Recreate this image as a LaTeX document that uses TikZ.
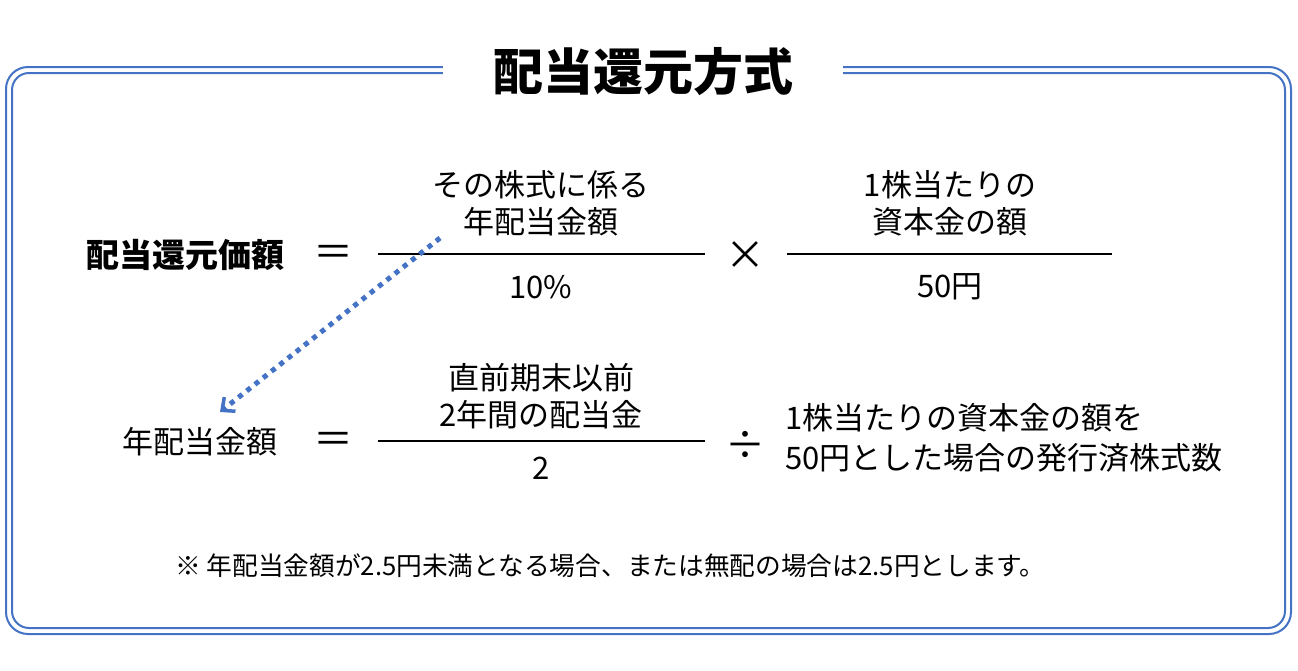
\documentclass[tikz,border=0pt]{standalone}
\usepackage{fontspec}
\setmainfont{Noto Sans CJK JP}
\usetikzlibrary{arrows.meta}
\definecolor{bl}{HTML}{4472C4}
\begin{document}
\begin{tikzpicture}[x=1pt,y=-1pt,
  txt/.style={inner sep=0pt,font=\fontsize{31}{36}\selectfont},
  op/.style={inner sep=0pt,font=\fontsize{40}{44}\selectfont},
  fr/.style={line width=2.2pt}]
\useasboundingbox (0,0) rectangle (1298,670);
\fill[white] (0,0) rectangle (1298,670);
\draw[bl,line width=2pt,rounded corners=22] (6,67) rectangle (1291,634);
\draw[bl,line width=2pt,rounded corners=17] (12,73) rectangle (1285,628);
\fill[white] (443,60) rectangle (843,80);
\node[inner sep=0pt,font=\fontsize{50}{56}\selectfont\bfseries] (title) at (643,72) {配当還元方式};
% row 1
\node[txt,font=\fontsize{33}{36}\selectfont\bfseries] (l1) at (185,255) {配当還元価額};
\node[op] (eq1) at (333,256) {＝};
\coordinate (f1a) at (378,254); \coordinate (f1b) at (705,254);
\draw[fr] (f1a) -- (f1b);
\node[txt] (n1a) at (541,185) {その株式に係る};
\node[txt] (n1b) at (541,222) {年配当金額};
\node[txt] (d1) at (541,287) {10\%};
\node[op] (x1) at (745,256) {×};
\coordinate (f2a) at (787,254); \coordinate (f2b) at (1112,254);
\draw[fr] (f2a) -- (f2b);
\node[txt] (n2a) at (950,185) {1株当たりの};
\node[txt] (n2b) at (950,222) {資本金の額};
\node[txt] (d2) at (950,287) {50円};
% row 2
\node[txt] (l2) at (200,442) {年配当金額};
\node[op] (eq2) at (333,443) {＝};
\coordinate (f3a) at (378,441); \coordinate (f3b) at (705,441);
\draw[fr] (f3a) -- (f3b);
\node[txt] (n3a) at (541,378) {直前期末以前};
\node[txt] (n3b) at (541,415) {2年間の配当金};
\node[txt] (d3) at (541,468) {2};
\node[op] (dv) at (745,445) {÷};
\node[txt,anchor=west] (r1) at (785,418) {1株当たりの資本金の額を};
\node[txt,anchor=west] (r2) at (785,458) {50円とした場合の発行済株式数};
\node[inner sep=0pt,anchor=west,font=\fontsize{25.7}{28}\selectfont] (fn) at (175,566) {※ 年配当金額が2.5円未満となる場合、または無配の場合は2.5円とします。};
% arrow
\coordinate (a0) at (440,238); \coordinate (a1) at (220,412);
\draw[bl,line width=5pt,dash pattern=on 5pt off 5.5pt,-{Straight Barb[length=10pt,width=18pt,line width=3.5pt]}] (a0) -- (a1);
\end{tikzpicture}
\end{document}
